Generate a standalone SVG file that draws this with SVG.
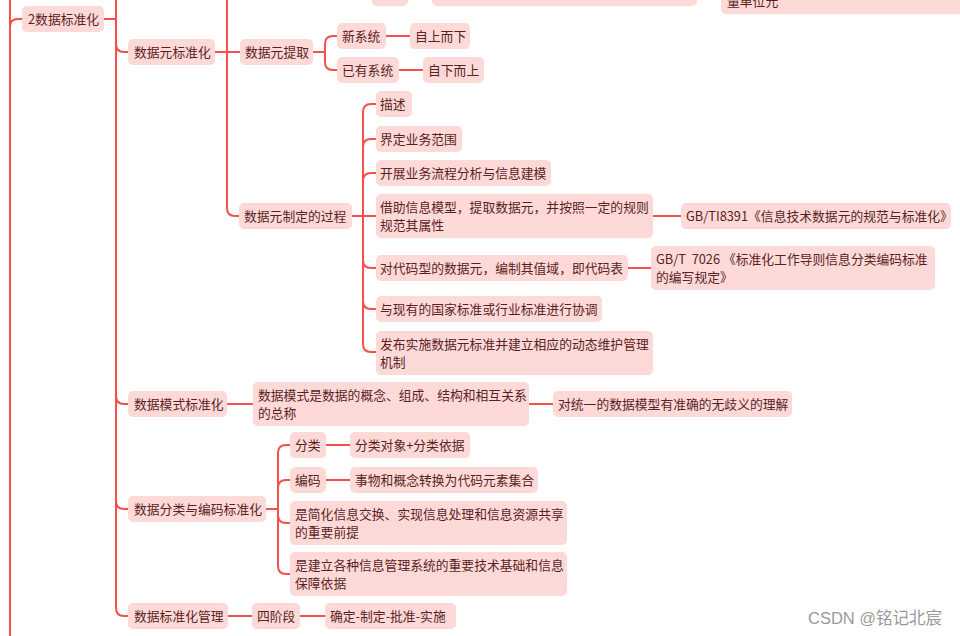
<svg xmlns="http://www.w3.org/2000/svg" width="960" height="636" viewBox="0 0 960 636">
<style>
.b{fill:#fdd9d7}
.t{font-family:"Noto Sans CJK SC","Liberation Sans",sans-serif;font-size:12.8px;fill:#5b1f1f}
.c{fill:none;stroke:#f5514b;stroke-width:2}
.w{font-family:"Liberation Sans","Noto Sans CJK SC",sans-serif;font-size:16.5px;fill:#9a9a9a}
</style>
<rect width="960" height="636" fill="#ffffff"/>
<g id="connectors">
<path class="c" d="M10,0 V636"/>
<path class="c" d="M10,27 Q10,19 18,19 H22"/>
<path class="c" d="M104,19 H116"/>
<path class="c" d="M116,0 V608 Q116,616 124,616 H128"/>
<path class="c" d="M116,44 Q116,52 124,52 H128"/>
<path class="c" d="M116,396 Q116,404 124,404 H128"/>
<path class="c" d="M116,501 Q116,509 124,509 H128"/>
<path class="c" d="M215,52 H240"/>
<path class="c" d="M227,0 V208 Q227,216 235,216 H239"/>
<path class="c" d="M313,52 H325"/>
<path class="c" d="M325,52 V44 Q325,36 333,36 H337"/>
<path class="c" d="M325,52 V62 Q325,70 333,70 H337"/>
<path class="c" d="M386,36 H410"/>
<path class="c" d="M399,70 H423"/>
<path class="c" d="M352,216 H376"/>
<path class="c" d="M363,216 V112 Q363,104 371,104 H376"/>
<path class="c" d="M363,147 Q363,139 371,139 H376"/>
<path class="c" d="M363,181 Q363,173 371,173 H376"/>
<path class="c" d="M363,216 V344 Q363,352 371,352 H376"/>
<path class="c" d="M363,260 Q363,268 371,268 H376"/>
<path class="c" d="M363,301 Q363,309 371,309 H376"/>
<path class="c" d="M653,216 H681"/>
<path class="c" d="M628,268 H651"/>
<path class="c" d="M227,404 H253"/>
<path class="c" d="M529,404 H553"/>
<path class="c" d="M266,509 H278"/>
<path class="c" d="M278,509 V453 Q278,445 286,445 H290"/>
<path class="c" d="M278,488 Q278,480 286,480 H290"/>
<path class="c" d="M278,509 V566 Q278,574 286,574 H290"/>
<path class="c" d="M278,515 Q278,523 286,523 H290"/>
<path class="c" d="M326,445 H350"/>
<path class="c" d="M326,480 H350"/>
<path class="c" d="M228,616 H252"/>
<path class="c" d="M300,616 H325"/>
</g>
<g id="n_top1"><rect class="b" x="372" y="-20" width="36" height="26" rx="5"/></g>
<g id="n_top2"><rect class="b" x="432" y="-20" width="265" height="26" rx="5"/></g>
<g id="n_top3"><rect class="b" x="721" y="-30" width="245" height="44" rx="5"/><text class="t" x="727" y="6">量单位元</text></g>
<g id="n_root"><rect class="b" x="22" y="6" width="82" height="26" rx="5"/><text class="t" x="28" y="24">2数据标准化</text></g>
<g id="n_sjybzh"><rect class="b" x="128" y="39" width="87" height="26" rx="5"/><text class="t" x="134" y="57">数据元标准化</text></g>
<g id="n_sjytq"><rect class="b" x="240" y="39" width="73" height="26" rx="5"/><text class="t" x="245" y="57">数据元提取</text></g>
<g id="n_xxt"><rect class="b" x="337" y="23" width="49" height="26" rx="5"/><text class="t" x="342" y="41">新系统</text></g>
<g id="n_zsex"><rect class="b" x="410" y="23" width="60" height="26" rx="5"/><text class="t" x="415" y="41">自上而下</text></g>
<g id="n_yyxt"><rect class="b" x="337" y="57" width="62" height="26" rx="5"/><text class="t" x="342" y="75">已有系统</text></g>
<g id="n_zxes"><rect class="b" x="423" y="57" width="61" height="26" rx="5"/><text class="t" x="428" y="75">自下而上</text></g>
<g id="n_zdgc"><rect class="b" x="239" y="203" width="113" height="26" rx="5"/><text class="t" x="244" y="221">数据元制定的过程</text></g>
<g id="n_ms"><rect class="b" x="376" y="91" width="36" height="26" rx="5"/><text class="t" x="380" y="109">描述</text></g>
<g id="n_jdyw"><rect class="b" x="376" y="126" width="86" height="26" rx="5"/><text class="t" x="380" y="144">界定业务范围</text></g>
<g id="n_kzyw"><rect class="b" x="376" y="160" width="175" height="26" rx="5"/><text class="t" x="380" y="178">开展业务流程分析与信息建模</text></g>
<g id="n_jzxx"><rect class="b" x="376" y="194" width="277" height="44" rx="5"/><text class="t" x="380" y="212">借助信息模型，提取数据元，并按照一定的规则</text><text class="t" x="380" y="230">规范其属性</text></g>
<g id="n_gb18391"><rect class="b" x="681" y="203" width="270" height="26" rx="5"/><text class="t" x="686" y="221">GB/TI8391《信息技术数据元的规范与标准化》</text></g>
<g id="n_dmx"><rect class="b" x="376" y="255" width="252" height="26" rx="5"/><text class="t" x="380" y="273">对代码型的数据元，编制其值域，即代码表</text></g>
<g id="n_gb7026"><rect class="b" x="651" y="246" width="284" height="44" rx="5"/><text class="t" x="656" y="264" style="white-space:pre">GB/T  7026 《标准化工作导则信息分类编码标准</text><text class="t" x="656" y="282">的编写规定》</text></g>
<g id="n_xt"><rect class="b" x="376" y="296" width="226" height="26" rx="5"/><text class="t" x="380" y="314">与现有的国家标准或行业标准进行协调</text></g>
<g id="n_fb"><rect class="b" x="376" y="331" width="277" height="44" rx="5"/><text class="t" x="380" y="349">发布实施数据元标准并建立相应的动态维护管理</text><text class="t" x="380" y="367">机制</text></g>
<g id="n_msbzh"><rect class="b" x="128" y="391" width="99" height="26" rx="5"/><text class="t" x="134" y="409">数据模式标准化</text></g>
<g id="n_msgn"><rect class="b" x="253" y="382" width="276" height="44" rx="5"/><text class="t" x="258" y="400">数据模式是数据的概念、组成、结构和相互关系</text><text class="t" x="258" y="418">的总称</text></g>
<g id="n_tyl"><rect class="b" x="553" y="391" width="239" height="26" rx="5"/><text class="t" x="558" y="409">对统一的数据模型有准确的无歧义的理解</text></g>
<g id="n_flbm"><rect class="b" x="128" y="496" width="138" height="26" rx="5"/><text class="t" x="134" y="514">数据分类与编码标准化</text></g>
<g id="n_fl"><rect class="b" x="290" y="432" width="36" height="26" rx="5"/><text class="t" x="295" y="450">分类</text></g>
<g id="n_fldx"><rect class="b" x="350" y="432" width="120" height="26" rx="5"/><text class="t" x="355" y="450">分类对象+分类依据</text></g>
<g id="n_bm"><rect class="b" x="290" y="467" width="36" height="26" rx="5"/><text class="t" x="295" y="485">编码</text></g>
<g id="n_swgn"><rect class="b" x="350" y="467" width="188" height="26" rx="5"/><text class="t" x="355" y="485">事物和概念转换为代码元素集合</text></g>
<g id="n_jhxx"><rect class="b" x="290" y="501" width="277" height="44" rx="5"/><text class="t" x="295" y="519">是简化信息交换、实现信息处理和信息资源共享</text><text class="t" x="295" y="537">的重要前提</text></g>
<g id="n_jlgz"><rect class="b" x="290" y="552" width="277" height="44" rx="5"/><text class="t" x="295" y="570">是建立各种信息管理系统的重要技术基础和信息</text><text class="t" x="295" y="588">保障依据</text></g>
<g id="n_bzhgl"><rect class="b" x="128" y="603" width="100" height="26" rx="5"/><text class="t" x="134" y="621">数据标准化管理</text></g>
<g id="n_sjd"><rect class="b" x="252" y="603" width="48" height="26" rx="5"/><text class="t" x="257" y="621">四阶段</text></g>
<g id="n_qd"><rect class="b" x="325" y="603" width="131" height="26" rx="5"/><text class="t" x="330" y="621">确定-制定-批准-实施</text></g>
<text class="w" x="808" y="624">CSDN @铭记北宸</text>
</svg>
